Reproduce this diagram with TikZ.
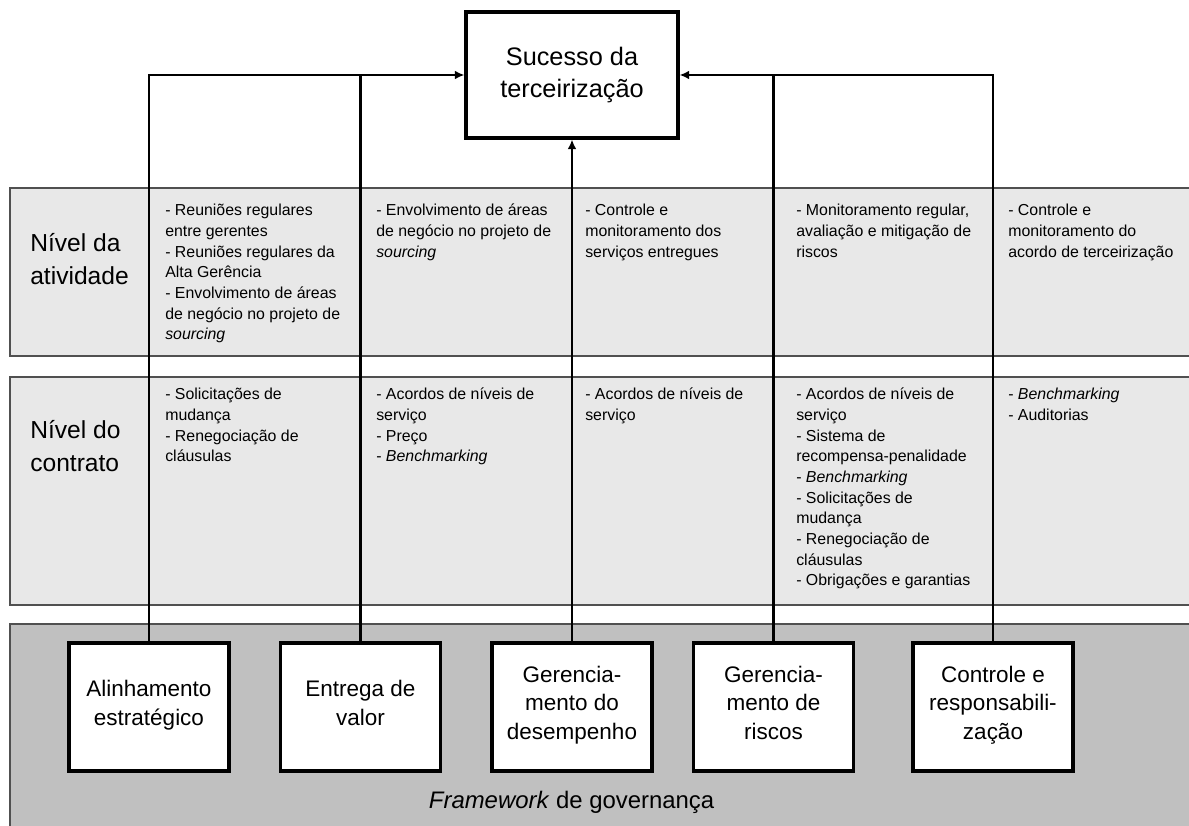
\documentclass[tikz,border=0pt]{standalone}
\usepackage{fontspec}
\setmainfont{Liberation Sans}
\usetikzlibrary{arrows.meta}

\definecolor{bandgray}{HTML}{E8E8E8}
\definecolor{fwgray}{HTML}{C0C0C0}
\definecolor{edgegray}{HTML}{505050}

\begin{document}
\begin{tikzpicture}[
  goal/.style={rectangle, draw, line width=2.2pt, fill=white, minimum width=5.3cm, minimum height=3.15cm, align=center, font=\fontsize{18}{22.5}\selectfont},
  box/.style={rectangle, draw, line width=2.2pt, fill=white, minimum width=4cm, minimum height=3.2cm, align=center, font=\fontsize{16}{20.5}\selectfont,
    execute at begin node=\strut, execute at end node=\strut},
  band/.style={draw=edgegray, line width=1.2pt, fill=bandgray},
  lvl/.style={anchor=north west, inner sep=0pt, align=left, font=\fontsize{17.5}{23.5}\selectfont},
  txt/.style={anchor=north west, inner sep=0pt, align=left, font=\fontsize{11.3}{14.7}\selectfont},
  ar/.style={-{Latex[length=2.4mm,width=2.2mm]}, line width=1.5pt},
  ln/.style={line width=1.5pt}
]
\useasboundingbox (0,0) rectangle (29.725,-20.65);
\fill[white] (0,0) rectangle (29.725,-20.65);
% levels
\draw[band] (0.25,-4.7) rectangle (30.5,-8.9);
\draw[band] (0.25,-9.425) rectangle (30.5,-15.125);
\draw[band, fill=fwgray] (0.25,-15.6) rectangle (30.5,-21);

\node[goal] (suc)  at (14.3,-1.875)     {Sucesso da\\terceirização};
\node[box]  (alin) at (3.725,-17.675)   {Alinhamento\\estratégico};
\node[box]  (entr) at (9.0125,-17.675)  {Entrega de\\valor};
\node[box]  (gdes) at (14.3,-17.675)    {Gerencia-\\mento do\\desempenho};
\node[box]  (gris) at (19.3375,-17.675) {Gerencia-\\mento de\\riscos};
\node[box]  (ctrl) at (24.825,-17.675)  {Controle e\\responsabili-\\zação};

\draw[ar] (alin.north) |- (suc.west);
\draw[ln] (entr.north) -- (entr.north |- suc.west);
\draw[ar] (gdes.north) -- (suc.south);
\draw[ln] (gris.north) -- (gris.north |- suc.east);
\draw[ar] (ctrl.north) |- (suc.east);

\node[lvl] (lvla) at (0.75,-5.82)  {Nível da\\atividade};
\node[lvl] (lvlc) at (0.75,-10.5)  {Nível do\\contrato};

% activity level
\node[txt] (a1) at (4.125,-5.1) {- Reuniões regulares\\entre gerentes\\- Reuniões regulares da\\Alta Gerência\\- Envolvimento de áreas\\de negócio no projeto de\\\textit{sourcing}};
\node[txt] (a2) at (9.4,-5.1)   {- Envolvimento de áreas\\de negócio no projeto de\\\textit{sourcing}};
\node[txt] (a3) at (14.625,-5.1) {- Controle e\\monitoramento dos\\serviços entregues};
\node[txt] (a4) at (19.9,-5.1)  {- Monitoramento regular,\\avaliação e mitigação de\\riscos};
\node[txt] (a5) at (25.2,-5.1)  {- Controle e\\monitoramento do\\acordo de terceirização};
% contract level
\node[txt] (c1) at (4.125,-9.7) {- Solicitações de\\mudança\\- Renegociação de\\cláusulas};
\node[txt] (c2) at (9.4,-9.7)   {- Acordos de níveis de\\serviço\\- Preço\\- \textit{Benchmarking}};
\node[txt] (c3) at (14.625,-9.7) {- Acordos de níveis de\\serviço};
\node[txt] (c4) at (19.9,-9.7)  {- Acordos de níveis de\\serviço\\- Sistema de\\recompensa-penalidade\\- \textit{Benchmarking}\\- Solicitações de\\mudança\\- Renegociação de\\cláusulas\\- Obrigações e garantias};
\node[txt] (c5) at (25.2,-9.7)  {- \textit{Benchmarking}\\- Auditorias};

\node[anchor=base, font=\fontsize{17}{20}\selectfont] (fw) at (14.29,-20.2) {\textit{Framework} de governança};
\end{tikzpicture}
\end{document}
